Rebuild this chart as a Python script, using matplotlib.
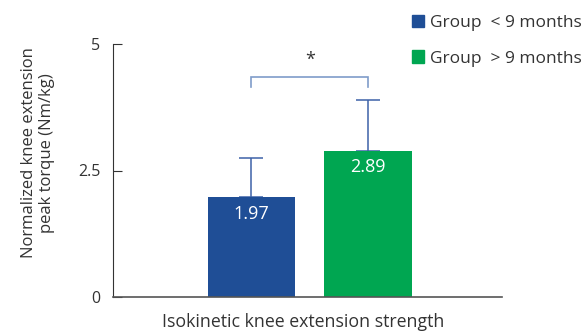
import matplotlib.pyplot as plt
from matplotlib.patches import Patch

plt.rcParams['font.family'] = ['Open Sans', 'DejaVu Sans']

groups = ['Group  < 9 months', 'Group  > 9 months']
means = [1.97, 2.89]
err_top = [2.75, 3.90]   # top of each error bar
colors = ['#1f4e96', '#00a651']
yticks = [0, 2.5, 5]
ytick_labels = ['0', '2.5', '5']

fig = plt.figure(figsize=(5.86, 3.31), dpi=100)
ax = fig.add_axes([113 / 586, 1 - 297 / 331, 389 / 586, 253 / 331])

x = [0, 1]
errs = [t - m for t, m in zip(err_top, means)]
ax.bar(x, means, width=0.75, color=colors, zorder=2)
ax.errorbar(x, means, yerr=[[0, 0], errs], fmt='none', ecolor='#3d62a8',
            elinewidth=1.1, capsize=8.5, capthick=1.1, zorder=1)

for xi, m in zip(x, means):
    ax.text(xi, m - 0.15, f'{m:.2f}', color='white', fontsize=13,
            ha='center', va='top', zorder=3)

# significance bracket
by, leg = 4.35, 0.19
ax.plot([0, 0, 1, 1], [by - leg, by, by, by - leg], color='#7f9cc9', lw=1.2,
        solid_joinstyle='miter')
ax.text(0.5, by + 0.15, '*', ha='center', va='bottom', fontsize=13, color='#333333')

ax.set_xlim(-1.187, 2.149)
ax.set_ylim(0, 5)
ax.set_yticks(yticks)
ax.set_yticklabels(ytick_labels, fontsize=11.5, color='#333333')
ax.tick_params(axis='y', direction='in', length=6.5, width=0.8, pad=9, color='#333333')
ax.set_xticks([])
for s in ['top', 'right']:
    ax.spines[s].set_visible(False)
ax.spines['left'].set_color('#333333')
ax.spines['bottom'].set_color('#555555')
ax.spines['bottom'].set_linewidth(1.2)

fig.text(38 / 586, 1 - 153 / 331,
         'Normalized knee extension\npeak torque (Nm/kg)',
         rotation=90, ha='center', va='center', fontsize=12,
         color='#333333', linespacing=1.15)
fig.text(303 / 586, 1 - 322 / 331, 'Isokinetic knee extension strength',
         ha='center', va='center', fontsize=12.8, color='#333333')

handles = [Patch(color=c) for c in colors]
fig.legend(handles, groups, loc='upper left', bbox_to_anchor=(400 / 586, 1 - 3 / 331),
           frameon=False, fontsize=12.5, handlelength=0.7, handleheight=0.7,
           handletextpad=0.35, labelspacing=1.1, borderaxespad=0.3,
           labelcolor='#333333')

fig.savefig('out.png', dpi=100)
